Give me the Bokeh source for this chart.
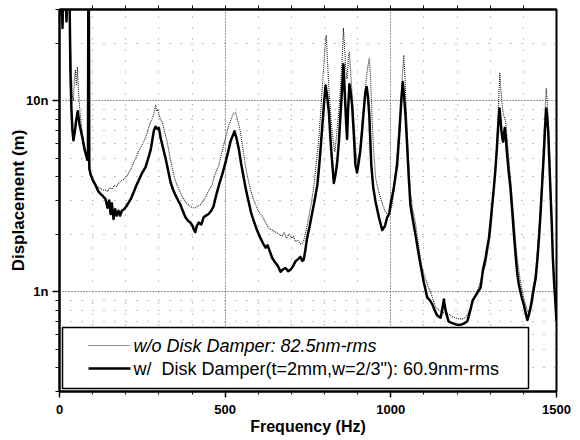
from bokeh.plotting import figure
from bokeh.models import Range1d, FixedTicker, LinearAxis, BoxAnnotation, Label, Arrow
from bokeh.embed import file_html
from bokeh.resources import INLINE

# ---- data (displacement in nm) ----
freq_wo = [0, 3, 6, 9, 12, 15, 18, 21, 24, 27, 30, 33, 36, 39, 42, 45, 48, 51, 54, 57, 60, 64, 68, 72, 76, 80, 84, 86, 87, 88.5, 90, 94,
           100, 107, 113, 119, 126, 133, 139, 146, 152, 159, 165, 172, 179, 186, 193, 199, 206, 212, 217, 224, 231, 238, 245, 252,
           260, 267, 273, 280, 285, 290, 293, 297, 302, 310, 318, 325, 332, 340, 348, 355, 360, 368, 375, 380, 388, 395, 402, 410,
           417, 425, 432, 440, 447, 453, 460, 467, 474, 481, 488, 496, 503, 511, 518, 524, 531, 535, 540, 546, 553, 561, 568, 576,
           584, 592, 600, 607, 614, 622, 632, 642, 652, 662, 672, 678, 685, 692, 700, 706, 712, 720, 727, 732, 737, 742, 747, 752,
           760, 768, 775, 783, 788, 793, 798, 802, 805, 809, 813, 818, 823, 828, 831, 836, 840, 845, 850, 854, 857, 861, 865, 868,
           872, 875, 879, 884, 889, 895, 900, 905, 910, 916, 923, 929, 935, 939, 943, 948, 954, 962, 969, 977, 984, 990, 995, 1000,
           1004, 1010, 1016, 1022, 1029, 1034, 1039, 1043, 1046, 1051, 1055, 1059, 1066, 1074, 1082, 1089, 1096, 1104, 1112, 1120,
           1128, 1135, 1145, 1155, 1165, 1175, 1185, 1195, 1205, 1215, 1225, 1235, 1245, 1255, 1265, 1275, 1286, 1293, 1301, 1306,
           1311, 1316, 1321, 1325, 1329, 1332, 1336, 1340, 1344, 1348, 1351, 1356, 1361, 1366, 1371, 1376, 1381, 1386, 1391, 1396,
           1401, 1407, 1414, 1419, 1424, 1430, 1437, 1442, 1447, 1452, 1457, 1461, 1465, 1469, 1472, 1475, 1479, 1482, 1486, 1489,
           1493, 1497, 1500]
disp_wo = [40, 30, 45, 26, 42, 32, 45, 28, 42, 34, 40, 20, 14, 10.5, 10, 13, 14.5, 12, 15, 11.5, 9.5, 8.0, 7.0, 6.2, 5.8, 5.4, 5.2, 5.8, 40, 40, 4.6, 4.2,
           3.95, 3.7, 3.55, 3.5, 3.45, 3.4, 3.4, 3.35, 3.5, 3.45, 3.6, 3.55, 3.7, 3.8, 3.85, 3.95, 4.1, 4.3, 4.45, 4.75, 5.05, 5.4, 5.7, 6.0,
           6.4, 7.0, 7.6, 8.1, 8.6, 9.5, 8.8, 9.0, 8.2, 7.7, 6.8, 6.1, 5.2, 4.45, 3.9, 3.6, 3.45, 3.2, 3.05, 2.95, 2.85, 2.8, 2.75, 2.75,
           2.8, 2.85, 2.95, 3.1, 3.3, 3.45, 3.6, 4.0, 4.3, 4.6, 5.2, 5.9, 6.6, 7.45, 8.0, 8.5, 8.7, 8.2, 7.6, 6.85, 5.7, 4.6, 3.95, 3.45,
           3.1, 2.85, 2.65, 2.55, 2.45, 2.3, 2.15, 2.1, 2.05, 2.0, 1.95, 2.05, 1.9, 2.0, 1.9, 1.95, 1.83, 1.85, 1.78, 1.77, 1.85, 2.0, 2.2, 2.45,
           2.9, 3.6, 4.7, 6.4, 8.5, 11.6, 15.5, 20, 22, 16, 11.6, 8.5, 6.9, 5.8, 5.4, 6.5, 7.8, 9.5, 13, 18, 24, 18, 14, 13,
           17, 18, 14, 10, 7.5, 5.3, 4.6, 5.2, 6.4, 8.5, 11.6, 14.5, 16.7, 13, 8.4, 5.5, 3.95, 3.4, 3.1, 2.8, 2.6, 2.55, 2.55, 2.7,
           2.85, 3.4, 4.6, 6.2, 8.7, 12.5, 17.3, 13, 9.5, 6.0, 4.3, 3.3, 2.7, 2.3, 1.85, 1.5, 1.3, 1.17, 1.07, 1.0,
           0.9, 0.83, 0.8, 0.78, 0.77, 0.76, 0.74, 0.73, 0.72, 0.72, 0.73, 0.78, 0.86, 0.95, 1.05, 1.2, 1.38, 1.65, 2.05, 2.6,
           3.3, 4.5, 6.4, 9.5, 14, 11.5, 9.5, 8.4, 8.1, 7.4, 6.4, 5.0, 3.95, 3.1, 2.45, 1.9, 1.5, 1.3, 1.13, 1.02,
           0.93, 0.85, 0.78, 0.82, 0.93, 1.08, 1.27, 1.6, 2.05, 2.9, 4.2, 6.0, 8.5, 11.6, 10.0, 7.7, 5.5, 3.45, 2.3, 1.5,
           1.15, 0.93, 0.75]

freq_w = [0, 3, 6, 9, 12, 15, 18, 21, 24, 27, 30, 33, 36, 39, 42, 46, 50, 55, 60, 65, 70, 75, 80, 84, 86, 87, 88.5, 90, 94,
          100, 109, 117, 124, 132, 139, 145, 150, 154, 158, 163, 168, 173, 178, 183, 188, 195, 202, 210, 217, 225, 232, 240, 250,
          260, 268, 275, 280, 285, 290, 295, 300, 305, 312, 320, 328, 335, 342, 350, 358, 365, 372, 380, 388, 395, 402, 406, 410,
          414, 420, 428, 435, 442, 450, 458, 465, 470, 475, 483, 491, 501, 509, 516, 522, 528, 534, 541, 548, 556, 563, 571, 578,
          586, 596, 607, 615, 622, 628, 635, 642, 650, 657, 662, 667, 675, 682, 690, 697, 705, 712, 720, 727, 733, 737, 742, 747,
          755, 763, 770, 778, 783, 788, 793, 798, 803, 808, 813, 818, 823, 828, 833, 838, 843, 848, 853, 857, 861, 865, 868, 871,
          875, 879, 883, 888, 893, 898, 903, 908, 913, 918, 923, 927, 931, 935, 941, 947, 954, 964, 974, 982, 989, 995, 999, 1009,
          1019, 1026, 1032, 1036, 1040, 1044, 1049, 1054, 1059, 1066, 1074, 1082, 1089, 1099, 1110, 1118, 1125, 1132, 1140, 1145,
          1150, 1155, 1160, 1165, 1174, 1180, 1190, 1200, 1210, 1220, 1231, 1240, 1247, 1260, 1271, 1278, 1286, 1291, 1296, 1301,
          1306, 1311, 1316, 1320, 1323, 1326, 1328, 1331, 1334, 1337, 1339, 1342, 1344, 1347, 1351, 1356, 1361, 1366, 1371, 1376,
          1381, 1386, 1391, 1396, 1401, 1405, 1408, 1412, 1416, 1420, 1424, 1430, 1437, 1442, 1447, 1452, 1457, 1461, 1465, 1469,
          1472, 1475, 1478, 1482, 1486, 1489, 1493, 1497, 1500]
disp_w = [40, 28, 45, 24, 40, 30, 45, 26, 40, 32, 38, 14, 9.0, 7.0, 6.2, 6.8, 7.8, 8.8, 7.6, 6.9, 6.3, 5.6, 5.2, 4.9, 5.5, 40, 40, 4.4, 4.1,
          3.85, 3.6, 3.35, 3.25, 3.15, 3.05, 2.75, 3.0, 2.55, 2.9, 2.4, 2.7, 2.5, 2.65, 2.5, 2.65, 2.7, 2.8, 2.95, 3.1, 3.35, 3.6, 3.85, 4.2,
          4.5, 5.0, 5.5, 6.2, 7.0, 7.3, 7.1, 7.2, 6.4, 5.7, 5.0, 4.3, 3.75, 3.45, 3.2, 3.0, 2.85, 2.65, 2.45, 2.35, 2.3, 2.2, 2.1, 2.05,
          2.2, 2.3, 2.25, 2.45, 2.5, 2.55, 2.65, 2.8, 3.05, 3.3, 3.7, 4.1, 4.75, 5.4, 6.1, 6.5, 6.9, 6.4, 5.6, 4.7, 3.95, 3.4, 2.95, 2.6,
          2.35, 2.1, 1.9, 1.78, 1.7, 1.75, 1.62, 1.5, 1.43, 1.38, 1.33, 1.27, 1.31, 1.33, 1.28, 1.3, 1.36, 1.44, 1.48, 1.52, 1.45, 1.47, 1.65, 1.9,
          2.2, 2.6, 3.0, 3.6, 4.4, 5.6, 7.3, 9.5, 12.0, 10.5, 8.7, 6.2, 4.75, 3.7, 4.1, 4.75, 6.0, 8.4, 11.5, 15.5, 11.0, 7.7, 6.3, 9.0,
          12.2, 11.0, 9.5, 6.8, 4.6, 4.2, 4.75, 5.5, 6.9, 8.8, 11.0, 11.8, 10.5, 8.4, 4.6, 3.5, 2.95, 2.45, 2.1, 2.2, 2.45, 2.55, 2.85, 3.5,
          4.6, 6.9, 10.3, 12.5, 10.5, 8.5, 5.9, 4.0, 2.85, 2.4, 2.0, 1.65, 1.4, 1.13, 0.93, 0.9, 0.86, 0.8, 0.75, 0.74,
          0.73, 0.8, 0.91, 0.8, 0.7, 0.69, 0.68, 0.67, 0.67, 0.68, 0.7, 0.8, 0.9, 0.98, 1.05, 1.3, 1.5, 1.7, 1.9, 2.3,
          2.85, 3.5, 4.45, 5.6, 6.9, 8.3, 9.1, 8.0, 6.9, 6.3, 6.1, 6.8, 7.2, 6.4, 5.2, 4.2, 3.5, 2.7, 2.05, 1.6,
          1.27, 1.1, 1.0, 0.92, 0.86, 0.8, 0.76, 0.71, 0.75, 0.8, 0.86, 1.0, 1.17, 1.45, 1.9, 2.6, 3.75, 5.0, 6.9, 9.1,
          8.2, 6.9, 5.0, 3.3, 2.2, 1.5, 1.1, 0.86, 0.7]

x_ticks = [0, 500, 1000, 1500]
x_minor_ticks = [100, 200, 300, 400, 600, 700, 800, 900, 1100, 1200, 1300, 1400]
top_tick_marks = [100, 200, 300, 400, 500, 600, 700, 800, 900, 1000, 1100, 1200, 1300, 1400]
y_ticks = [1, 10]
y_tick_labels = {1: "1n", 10: "10n"}
y_minor_ticks = [0.3, 0.4, 0.5, 0.6, 0.7, 0.8, 0.9, 2, 3, 4, 5, 6, 7, 8, 9, 20, 30]
label_wo = "w/o Disk Damper: 82.5nm-rms"
label_w = 'w/\u00a0 Disk Damper(t=2mm,w=2/3"): 60.9nm-rms'
x_label = "Frequency (Hz)"
y_label = "Displacement (m)"

FONT = "Liberation Sans"

p = figure(width=580, height=440, output_backend="svg", toolbar_location=None,
           y_axis_type="log", x_range=Range1d(0, 1500), y_range=Range1d(0.3, 30),
           min_border_left=59, min_border_right=24, min_border_top=9, min_border_bottom=49)
p.background_fill_color = "white"
p.border_fill_color = "white"
p.outline_line_color = "black"
p.outline_line_width = 2

# axes
xa = p.xaxis[0]
xa.ticker = FixedTicker(ticks=x_ticks, minor_ticks=x_minor_ticks)
ya = p.yaxis[0]
ya.ticker = FixedTicker(ticks=y_ticks, minor_ticks=y_minor_ticks)
ya.major_label_overrides = y_tick_labels
for ax in (xa, ya):
    ax.axis_line_width = 2
    ax.axis_line_color = "black"
    ax.major_tick_line_width = 1.5
    ax.minor_tick_line_width = 1
    ax.major_tick_in = 0
    ax.minor_tick_in = 0
    ax.major_label_text_font = FONT
    ax.major_label_text_font_style = "bold"
    ax.major_label_text_font_size = "13px"
    ax.major_label_text_color = "black"
    ax.axis_label_text_font = FONT
    ax.axis_label_text_font_style = "bold"
    ax.axis_label_text_color = "black"
xa.major_tick_out = 6
xa.minor_tick_out = 3
xa.major_label_standoff = 7
xa.axis_label = x_label
xa.axis_label_text_font_size = "16px"
xa.axis_label_standoff = 1
ya.major_tick_out = 7
ya.minor_tick_out = 4
ya.major_label_standoff = 4
ya.axis_label = y_label
ya.axis_label_text_font_size = "17px"
ya.axis_label_standoff = -5

# top axis: tick marks only (no major ticks -> no labels)
top = LinearAxis(ticker=FixedTicker(ticks=[], minor_ticks=top_tick_marks),
                 minor_tick_out=4, minor_tick_in=0, minor_tick_line_width=1,
                 axis_line_width=2, axis_line_color="black")
p.add_layout(top, "above")

# grids
for g in (p.xgrid[0], p.ygrid[0]):
    g.grid_line_color = "#333333"
    g.grid_line_dash = "1 2"
    g.grid_line_width = 1
    g.minor_grid_line_color = "#555555"
    g.minor_grid_line_dash = "1 10"
    g.minor_grid_line_width = 1
    g.minor_grid_line_alpha = 0.7

# curves
p.line(freq_wo, disp_wo, line_color="#222222", line_width=1.1, line_dash="1 1")
p.line(freq_w, disp_w, line_color="black", line_width=2.5, line_join="round")

# legend (drawn as annotations)
box = BoxAnnotation(left=3, right=469, bottom=3, top=64,
                    left_units="screen", right_units="screen", bottom_units="screen", top_units="screen",
                    fill_color="white", fill_alpha=1.0, line_color="black", line_width=1.5, line_alpha=1.0)
p.add_layout(box)
p.add_layout(Arrow(end=None, x_start=29, y_start=46, x_end=71, y_end=46,
                   start_units="screen", end_units="screen",
                   line_color="#222222", line_width=1.1, line_dash="1 1"))
p.add_layout(Arrow(end=None, x_start=29, y_start=23, x_end=71, y_end=23,
                   start_units="screen", end_units="screen",
                   line_color="black", line_width=2.5))
p.add_layout(Label(x=74, y=46, x_units="screen", y_units="screen", text=label_wo,
                   text_font=FONT, text_font_size="18px", text_font_style="italic",
                   text_baseline="middle", text_color="black"))
p.add_layout(Label(x=74, y=23, x_units="screen", y_units="screen", text=label_w,
                   text_font=FONT, text_font_size="18px", text_font_style="normal",
                   text_baseline="middle", text_color="black"))

open("out.html", "w").write(file_html(p, INLINE))
